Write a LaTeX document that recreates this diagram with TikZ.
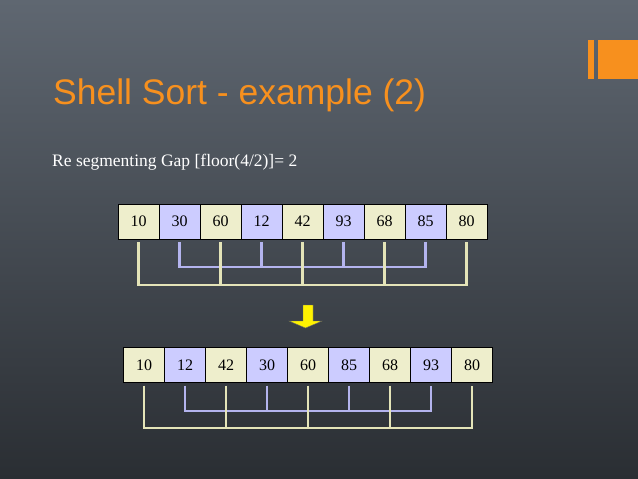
\documentclass[tikz,border=0pt]{standalone}
\usepackage{fontspec}
\setmainfont{Liberation Serif}
\newfontfamily\titlefont{Liberation Sans}
\begin{document}
\begin{tikzpicture}[x=1pt,y=-1pt,
 ybox/.style={draw=black,fill=boxy,minimum width=41pt,minimum height=35pt,inner sep=0pt,font=\fontsize{16}{16}\selectfont},
 pbox/.style={ybox,fill=boxp},
 yl/.style={draw=liney,line width=2.8pt},
 pl/.style={draw=linep,line width=2.8pt}]
\definecolor{boxy}{HTML}{EEEECC}
\definecolor{boxp}{HTML}{CCCCFF}
\definecolor{liney}{HTML}{E4E4B8}
\definecolor{linep}{HTML}{B4B4EE}
\definecolor{bgtop}{HTML}{5F6771}
\definecolor{bgbot}{HTML}{2A2E33}
\definecolor{orng}{HTML}{F7901E}
\shade[top color=bgtop,bottom color=bgbot] (0,0) rectangle (638,479);
\useasboundingbox (0,0) rectangle (638,479);
\fill[orng] (588,40) rectangle (594,79);
\fill[orng] (598,40) rectangle (638,79);
\node[anchor=base west,inner sep=0pt,text=orng,font=\titlefont\fontsize{35.5}{36}\selectfont] (title) at (53,104) {Shell Sort - example (2)};
\node[anchor=base west,inner sep=0pt,text=white,font=\fontsize{17.5}{18}\selectfont] (sub) at (52,166) {Re segmenting Gap [floor(4/2)]= 2};
% top row
\foreach \v [count=\i] in {10,30,60,12,42,93,68,85,80}{
  \pgfmathtruncatemacro{\odd}{mod(\i,2)}
  \ifnum\odd=1 \def\st{ybox}\else\def\st{pbox}\fi
  \node[\st] (t\i) at ({138.5+41*(\i-1)},221.5) {\v};
}
\foreach \v [count=\i] in {10,12,42,30,60,85,68,93,80}{
  \pgfmathtruncatemacro{\odd}{mod(\i,2)}
  \ifnum\odd=1 \def\st{ybox}\else\def\st{pbox}\fi
  \node[\st] (b\i) at ({144+41*(\i-1)},365) {\v};
}
\coordinate (tp) at (0,267);
\coordinate (ty) at (0,285);
\coordinate (bp) at (0,411);
\coordinate (by) at (0,428);
% top connectors
\draw[pl] ([yshift=-3pt]t2.south) -- (t2.south |- tp) -- (t8.south |- tp) -- ([yshift=-3pt]t8.south);
\foreach \i in {4,6}{\draw[pl] ([yshift=-3pt]t\i.south) -- (t\i.south |- tp);}
\draw[yl] ([yshift=-3pt]t1.south) -- (t1.south |- ty) -- (t9.south |- ty) -- ([yshift=-3pt]t9.south);
\foreach \i in {3,5,7}{\draw[yl] ([yshift=-3pt]t\i.south) -- (t\i.south |- ty);}
% bottom connectors
\draw[pl] ([yshift=-3pt]b2.south) -- (b2.south |- bp) -- (b8.south |- bp) -- ([yshift=-3pt]b8.south);
\foreach \i in {4,6}{\draw[pl] ([yshift=-3pt]b\i.south) -- (b\i.south |- bp);}
\draw[yl] ([yshift=-3pt]b1.south) -- (b1.south |- by) -- (b9.south |- by) -- ([yshift=-3pt]b9.south);
\foreach \i in {3,5,7}{\draw[yl] ([yshift=-3pt]b\i.south) -- (b\i.south |- by);}
% arrow
\fill[yellow,draw=black!60,line width=0.4pt] (303,305) -- (313,305) -- (313,321) -- (322,321) -- (305.5,328) -- (289,321) -- (303,321) -- cycle;
\end{tikzpicture}
\end{document}
